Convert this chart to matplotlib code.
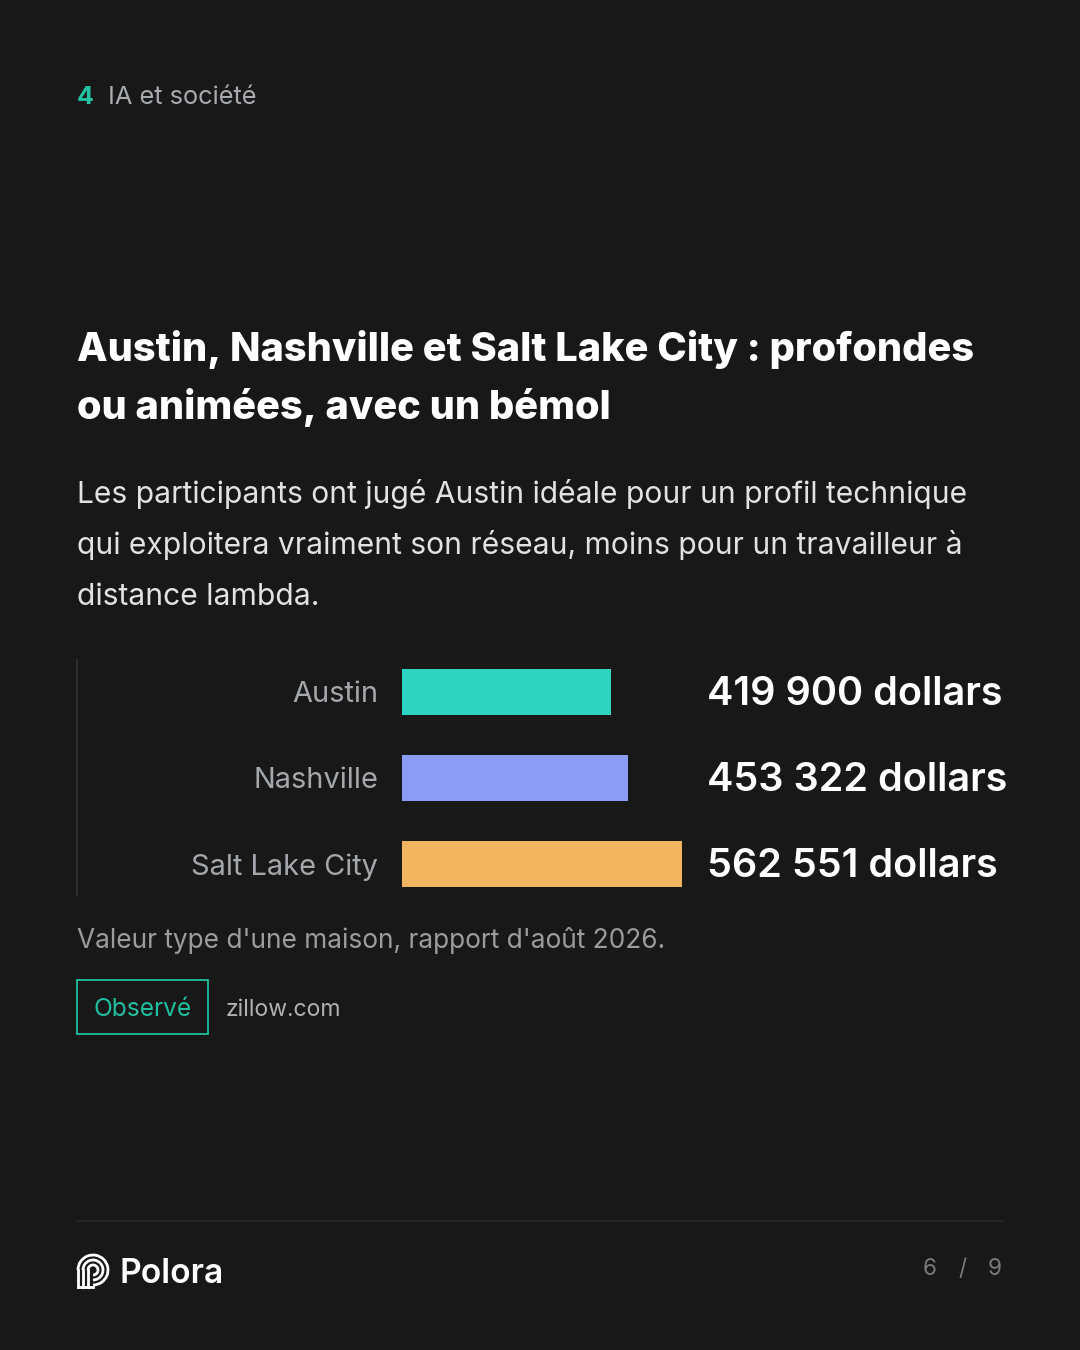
import matplotlib
matplotlib.use("Agg")
import matplotlib.pyplot as plt
from matplotlib.patches import Rectangle, Arc
from matplotlib.lines import Line2D
import matplotlib.transforms as mtransforms

W, H = 1080, 1350
BG = "#181818"

cities = ["Austin", "Nashville", "Salt Lake City"]
values = [419900, 453322, 562551]
value_labels = ["419 900 dollars", "453 322 dollars", "562 551 dollars"]
colors = ["#2dd4bf", "#8b9cf4", "#f0b55e"]

plt.rcParams["font.family"] = ["Inter", "DejaVu Sans"]

fig = plt.figure(figsize=(W / 100, H / 100), dpi=100, facecolor=BG)


def fx(x):
    return x / W


def fy(y):
    return 1 - y / H


def px(s):
    # font size in pixels -> points
    return s * 72 / 100


# header
fig.text(fx(77), fy(97.5), "4", color="#22c3a0", fontsize=px(25), fontweight="bold", va="center")
fig.text(fx(108), fy(97.5), "IA et société", color="#a8acb0", fontsize=px(25.4), va="center")

# title, sized so that the first line spans the same width as the reference
title_lines = ["Austin, Nashville et Salt Lake City : profondes", "ou animées, avec un bémol"]
renderer = fig.canvas.get_renderer()
title_texts = []
for i, line in enumerate(title_lines):
    t = fig.text(fx(77), fy(361 + 58 * i), line, color="white", fontsize=px(46),
                 fontweight="heavy", va="baseline")
    title_texts.append(t)
w0 = title_texts[0].get_window_extent(renderer).width
for t in title_texts:
    t.set_fontsize(px(46) * 898 / w0)

# subtitle
body = ["Les participants ont jugé Austin idéale pour un profil technique",
        "qui exploitera vraiment son réseau, moins pour un travailleur à",
        "distance lambda."]
for i, line in enumerate(body):
    fig.text(fx(77), fy(503 + 51 * i), line, color="#e2e2e2", fontsize=px(30), va="baseline")

# bars
ax = fig.add_axes([fx(402), fy(907), (682 - 402) / W, (907 - 649) / H])
ax.set_facecolor(BG)
ypos = list(range(len(cities)))
ax.barh(ypos, values, height=46 / 86, color=colors)
ax.set_xlim(0, max(values))
ax.set_ylim(len(cities) - 0.5, -0.5)
ax.axis("off")

trans = mtransforms.blended_transform_factory(fig.transFigure, ax.transData)
trans = trans + mtransforms.ScaledTranslation(0, -3 / 100, fig.dpi_scale_trans)
for y, c, lab in zip(ypos, cities, value_labels):
    fig.text(fx(378), y, c, transform=trans, color="#a4a8ac", fontsize=px(29),
             ha="right", va="center")
    fig.text(fx(707), y, lab, transform=trans, color="white", fontsize=px(39.6),
             fontweight="semibold", ha="left", va="center")

fig.add_artist(Line2D([fx(77), fx(77)], [fy(660), fy(895)], color="#2e2e2e", lw=1.5))

# caption
fig.text(fx(77), fy(940), "Valeur type d'une maison, rapport d'août 2026.", color="#9a9c9e",
         fontsize=px(26.3), va="center")

fig.add_artist(Rectangle((fx(77), fy(1034)), (208 - 77) / W, (1034 - 980) / H,
                         transform=fig.transFigure, fill=False, edgecolor="#1fbfa0", lw=1.3))
fig.text(fx(142.5), fy(1009.5), "Observé", color="#1fbfa0", fontsize=px(24.5), ha="center", va="center")
fig.text(fx(226), fy(1009.5), "zillow.com", color="#b0b2b4", fontsize=px(23), va="center")

# footer
fig.add_artist(Line2D([fx(77), fx(1003)], [fy(1221), fy(1221)], color="#2a2a2a", lw=1.2))

# logo: nested arcs
cx, cy = 93, 1270
for r in [15, 10, 5]:
    fig.add_artist(Arc((fx(cx), fy(cy)), 2 * r / W, 2 * r / H, theta1=-90, theta2=180,
                       transform=fig.transFigure, color="white", lw=2.0))
    fig.add_artist(Line2D([fx(cx - r), fx(cx - r)], [fy(cy), fy(1287)], color="white", lw=2.0))
fig.add_artist(Line2D([fx(cx - 15), fx(cx)], [fy(1287), fy(1287)], color="white", lw=2.0))

fig.text(fx(120), fy(1274), "Polora", color="white", fontsize=px(33.6), fontweight="semibold", va="center")
for x, s in [(930, "6"), (962.5, "/"), (994.5, "9")]:
    fig.text(fx(x), fy(1269), s, color="#7a7a7a", fontsize=px(22.5), ha="center", va="center")

fig.savefig("out.png", dpi=100, facecolor=BG)
